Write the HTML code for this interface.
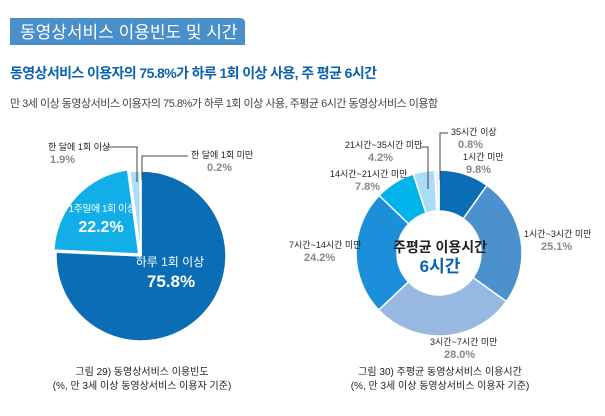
<!DOCTYPE html>
<html><head><meta charset="utf-8"><style>
body{margin:0;background:#fff;width:605px;height:416px;overflow:hidden;font-family:"Liberation Sans","Noto Sans CJK KR",sans-serif}
svg{position:absolute;left:0;top:0}
text{font-family:"Liberation Sans","Noto Sans CJK KR",sans-serif}
</style></head><body>
<svg width="605" height="416">
<path d="M10 45 V18 H240 Q245 18 245 23 V45 Z" fill="#4a8fca"/>
<text x="20" y="38" font-size="17" fill="#fff">동영상서비스 이용빈도 및 시간</text>
<text x="10" y="78" font-size="14" font-weight="bold" fill="#0b62ad" letter-spacing="-0.6">동영상서비스 이용자의 75.8%가 하루 1회 이상 사용, 주 평균 6시간</text>
<text x="10" y="107" font-size="11" fill="#444" letter-spacing="-0.5">만 3세 이상 동영상서비스 이용자의 75.8%가 하루 1회 이상 사용, 주평균 6시간 동영상서비스 이용함</text>
<g id="pie1"></g>
<g id="pie2"></g>
<g font-size="9" fill="#222">
<text x="48" y="150">한 달에 1회 이상</text><text x="50" y="163" font-size="11" font-weight="bold" fill="#888">1.9%</text>
<text x="191" y="158">한 달에 1회 미만</text><text x="207" y="171" font-size="11" font-weight="bold" fill="#888">0.2%</text>
<polyline points="106,147 137,147 137,182" fill="none" stroke="#444" stroke-width="1"/>
<polyline points="188,156 142,156 142,180" fill="none" stroke="#444" stroke-width="1"/>
<text x="102" y="212" font-size="10" fill="#fff" text-anchor="middle" letter-spacing="-0.5">1주일에 1회 이상</text>
<text x="101" y="232" font-size="16" font-weight="bold" fill="#fff" text-anchor="middle">22.2%</text>
<text x="170" y="266" font-size="12" fill="#fff" text-anchor="middle">하루 1회 이상</text>
<text x="171" y="287" font-size="17" font-weight="bold" fill="#fff" text-anchor="middle">75.8%</text>
</g>
<g font-size="9" fill="#222">
<text x="451" y="135">35시간 이상</text><text x="458" y="148" font-size="11" font-weight="bold" fill="#888">0.8%</text>
<text x="463" y="160">1시간 미만</text><text x="466" y="173" font-size="11" font-weight="bold" fill="#888">9.8%</text>
<polyline points="448,133 440,133 440,180" fill="none" stroke="#444"/>
<text x="345" y="148">21시간~35시간 미만</text><text x="368" y="161" font-size="11" font-weight="bold" fill="#888">4.2%</text>
<polyline points="420,147 428,147 428,189" fill="none" stroke="#444"/>
<text x="330" y="177">14시간~21시간 미만</text><text x="355" y="190" font-size="11" font-weight="bold" fill="#888">7.8%</text>
<text x="524" y="237">1시간~3시간 미만</text><text x="541" y="250" font-size="11" font-weight="bold" fill="#888">25.1%</text>
<text x="289" y="248">7시간~14시간 미만</text><text x="304" y="261" font-size="11" font-weight="bold" fill="#888">24.2%</text>
<text x="430" y="345">3시간~7시간 미만</text><text x="444" y="358" font-size="11" font-weight="bold" fill="#888">28.0%</text>
<text x="440" y="252" font-size="14" font-weight="bold" fill="#222" text-anchor="middle">주평균 이용시간</text>
<text x="440" y="272" font-size="17" font-weight="bold" fill="#0b62ad" text-anchor="middle">6시간</text>
</g>
<g font-size="10" fill="#222" text-anchor="middle">
<text x="142" y="375">그림 29) 동영상서비스 이용빈도</text>
<text x="142" y="389">(%, 만 3세 이상 동영상서비스 이용자 기준)</text>
<text x="440" y="375">그림 30) 주평균 동영상서비스 이용시간</text>
<text x="440" y="389">(%, 만 3세 이상 동영상서비스 이용자 기준)</text>
</g>
</svg>
<script>
const freqCats=["하루 1회 이상","1주일에 1회 이상","한 달에 1회 이상","한 달에 1회 미만"];
const freqVals=[75.8,22.2,1.9,0.2];
const freqColors=["#0a6db5","#12aee8","#a9dcf5","#e8f3fb"];
const hourCats=["1시간 미만","1시간~3시간 미만","3시간~7시간 미만","7시간~14시간 미만","14시간~21시간 미만","21시간~35시간 미만","35시간 이상"];
const hourVals=[9.8,25.1,28.0,24.2,7.8,4.2,0.8];
const hourColors=["#0a6db5","#4a91cd","#97b8e1","#1b8fd9","#00b3ea","#a9dcf5","#e8f3fb"];
const NS="http://www.w3.org/2000/svg";
function pt(cx,cy,r,a){return [cx+r*Math.sin(a),cy-r*Math.cos(a)];}
function draw(g,vals,colors,cx,cy,r,ri,names,explode){
  const tot=vals.reduce((a,b)=>a+b,0);let a0=0;
  vals.forEach((v,i)=>{
    const a1=a0+v/tot*2*Math.PI;
    let dx=0,dy=0;
    if(explode&&explode[i]){const m=(a0+a1)/2;dx=explode[i]*Math.sin(m);dy=-explode[i]*Math.cos(m);}
    const large=(a1-a0)>Math.PI?1:0;
    const [x0,y0]=pt(cx+dx,cy+dy,r,a0),[x1,y1]=pt(cx+dx,cy+dy,r,a1);
    let d;
    if(ri>0){const [x2,y2]=pt(cx,cy,ri,a1),[x3,y3]=pt(cx,cy,ri,a0);
      d=`M${x0} ${y0}A${r} ${r} 0 ${large} 1 ${x1} ${y1}L${x2} ${y2}A${ri} ${ri} 0 ${large} 0 ${x3} ${y3}Z`;}
    else d=`M${cx+dx} ${cy+dy}L${x0} ${y0}A${r} ${r} 0 ${large} 1 ${x1} ${y1}Z`;
    const p=document.createElementNS(NS,"path");
    p.setAttribute("d",d);p.setAttribute("fill",colors[i]);p.setAttribute("stroke","#fff");p.setAttribute("stroke-width","1.5");
    
    
    g.appendChild(p);a0=a1;
  });
}
draw(document.getElementById("pie1"),freqVals,freqColors,141,256,85,0,"frequency",[0,3,0,0]);
draw(document.getElementById("pie2"),hourVals,hourColors,439,253,83,42,"hours",null);
</script>
</body></html>
